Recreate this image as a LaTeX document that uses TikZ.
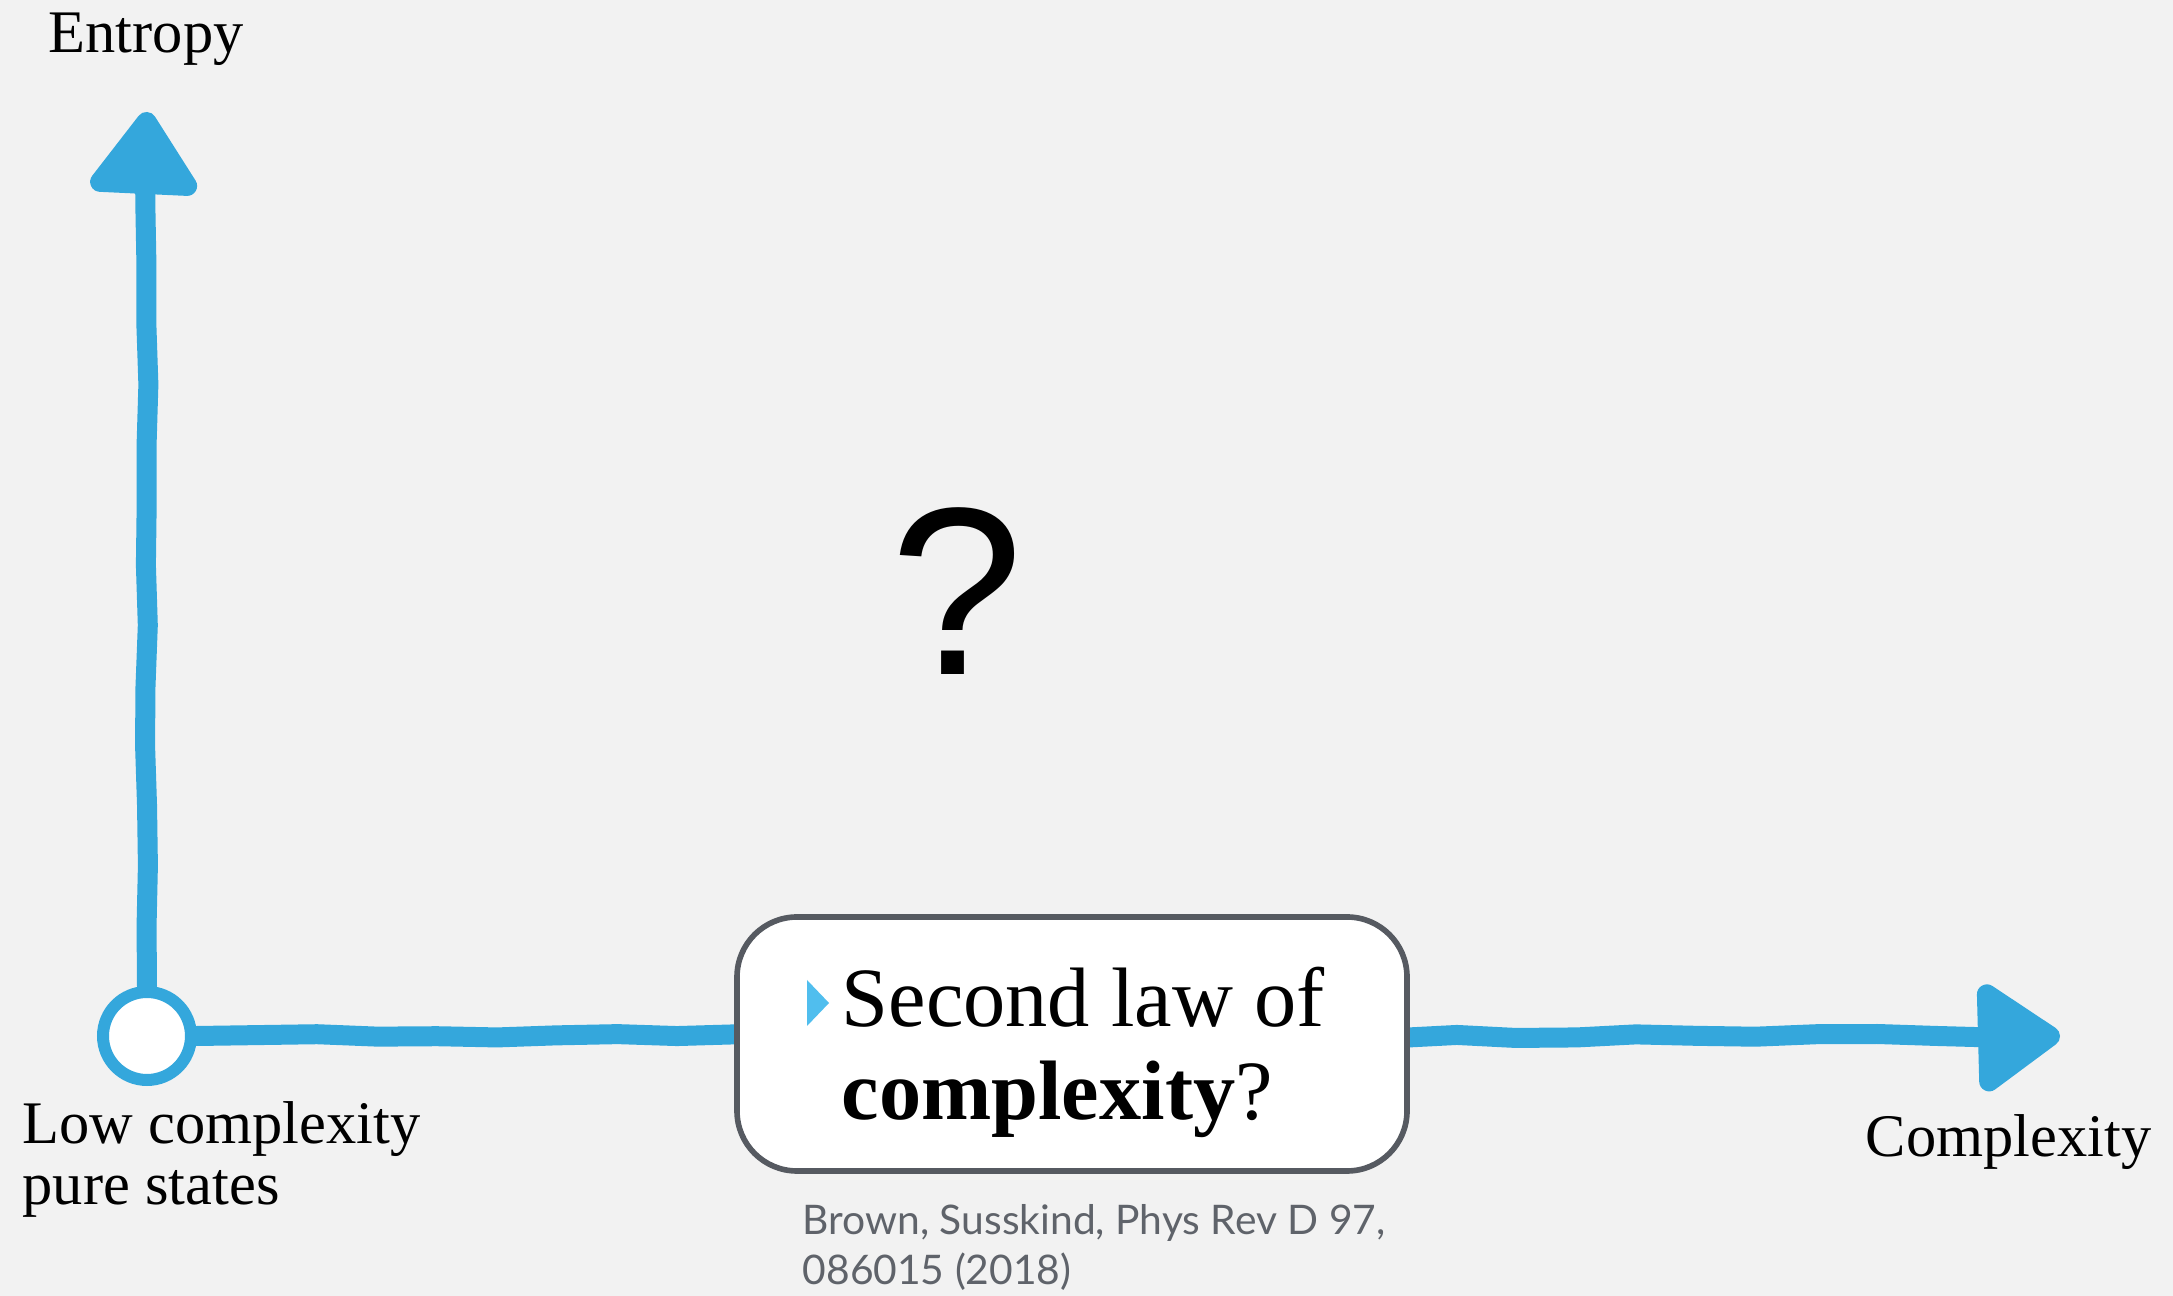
\documentclass[tikz,border=0pt]{standalone}
\usepackage{fontspec}
\setmainfont{Liberation Serif}
\newfontfamily\qfont{Liberation Sans}
\newfontfamily\citefont{Lato}
\usepackage{xcolor}
\usepackage{tikz}
\usetikzlibrary{arrows.meta,positioning,decorations.pathmorphing}
\definecolor{sblue}{RGB}{52,167,220}
\definecolor{lblue}{RGB}{80,190,238}
\definecolor{sgray}{RGB}{86,90,97}
\definecolor{cgray}{RGB}{95,99,106}
\definecolor{paper}{RGB}{242,242,242}
\tikzset{
  axis/.style   ={draw=sblue, line width=2mm, line cap=round, line join=round,
                  decorate, decoration={random steps, segment length=6mm, amplitude=0.2mm},
                  -{Triangle[length=9mm, width=12mm, round]}},
  origin/.style ={circle, draw=sblue, fill=white, line width=1.2mm,
                  minimum size=8.8mm, inner sep=0pt},
  lawbox/.style ={rectangle, rounded corners=6mm, draw=sgray, fill=white,
                  line width=1.6pt, minimum width=6.7cm, minimum height=2.54cm},
  lbl/.style    ={font=\fontsize{17.2}{17.6}\selectfont, inner sep=0pt, align=left},
  cite/.style   ={font=\citefont\fontsize{11.6}{14.5}\selectfont, text=cgray,
                  inner sep=0pt, align=left}
}

\begin{document}
\begin{tikzpicture}
\pgfmathsetseed{7}
\fill[paper] (0,0) rectangle (21.73,12.96);
\useasboundingbox (0,0) rectangle (21.73,12.96);

\node[origin] (o) at (1.47,2.60) {};
\coordinate (ytip) at (1.47,11.84);
\coordinate (xtip) at (20.60,2.60);
\draw[axis] (o) -- (ytip);
\draw[axis] (o) -- (xtip);

% the law box sits on top of the x axis
\node[lawbox] (law) at (10.72,2.52) {};
\fill[lblue] (8.07,3.16) -- (8.29,2.93) -- (8.07,2.70) -- cycle;
\node[anchor=base west, inner sep=0pt, align=left,
      font=\fontsize{24}{26.7}\selectfont] (lawtxt) at (8.41,1.76)
  {Second law of\\\textbf{complexity}?};

\node[lbl, anchor=base west] (ent) at (0.48,12.43) {Entropy};
\node[lbl, anchor=base west] (low) at (0.22,0.91) {Low complexity\\pure states};
\node[lbl, anchor=base west] (cx) at (18.65,1.39) {Complexity};
\node[anchor=base, inner sep=0pt, font=\qfont\fontsize{68}{70}\selectfont] (q) at (9.565,6.21) {?};

\node[cite, anchor=base west] (ref) at (8.02,0.11)
  {Brown, Susskind, Phys Rev D 97,\\086015 (2018)};
\end{tikzpicture}
\end{document}
